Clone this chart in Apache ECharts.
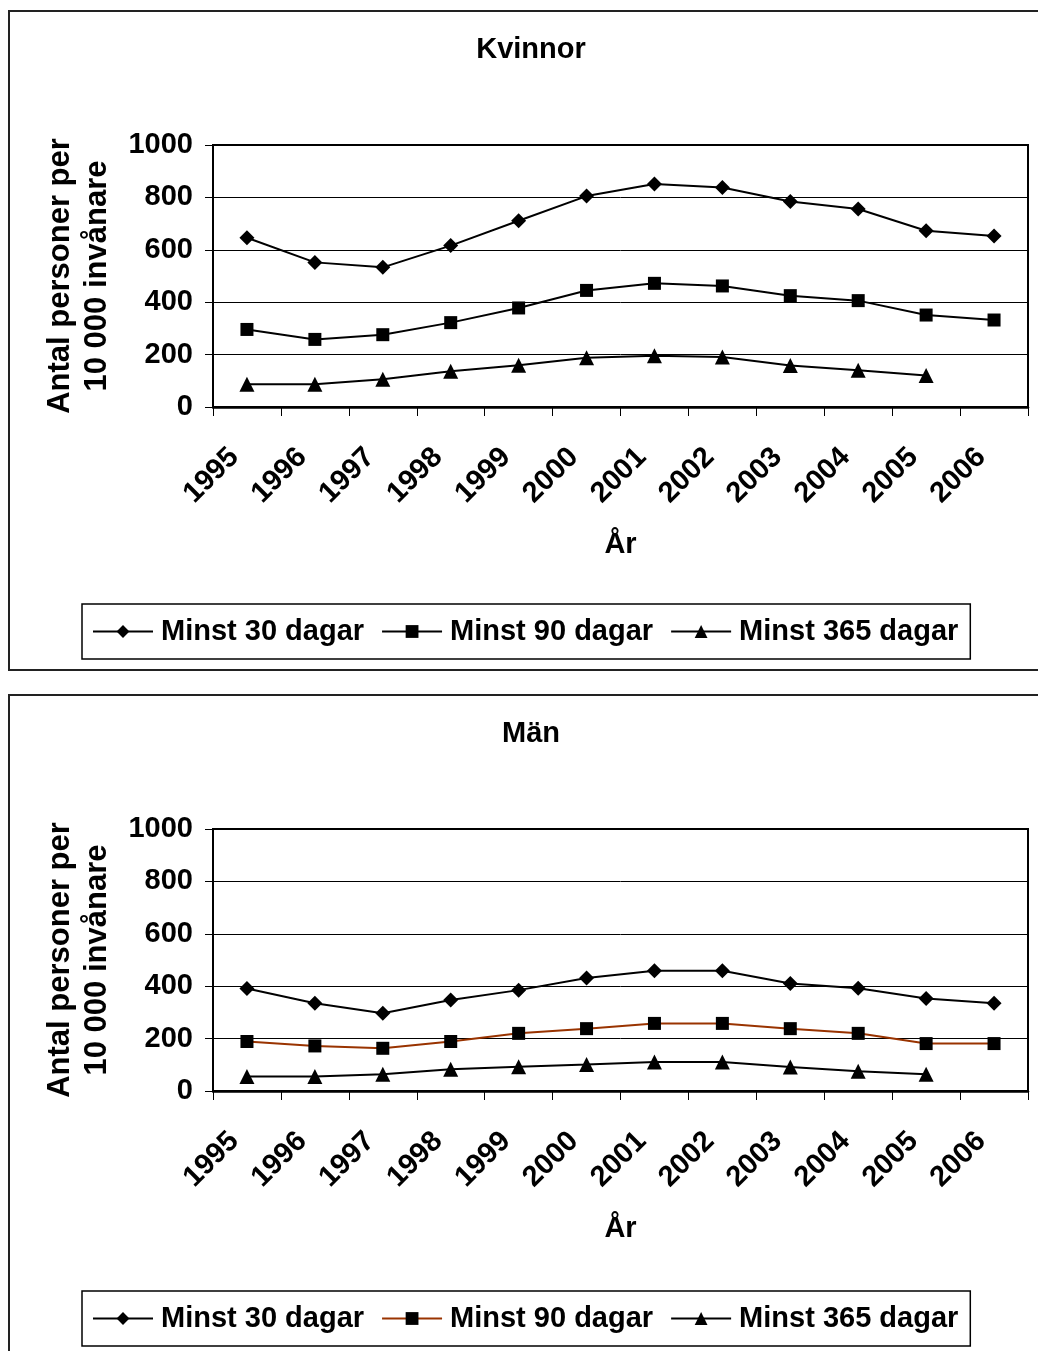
<!DOCTYPE html>
<html>
<head>
<meta charset="utf-8">
<script src="https://cdn.jsdelivr.net/npm/echarts@6/dist/echarts.min.js"></script>
<style>
  html, body { margin: 0; padding: 0; background: #fff; }
  body { width: 1038px; height: 1351px; position: relative; overflow: hidden; }
  .chart { position: absolute; left: 0; width: 1038px; }
  #kvinnor { top: 0; height: 684px; }
  #man { top: 684px; height: 667px; }
</style>
</head>
<body>
<div id="kvinnor" class="chart"></div>
<div id="man" class="chart"></div>
<script>
// Categories
const years = ['1995', '1996', '1997', '1998', '1999', '2000', '2001', '2002', '2003', '2004', '2005', '2006'];
const seriesNames = ['Minst 30 dagar', 'Minst 90 dagar', 'Minst 365 dagar'];
const yTicks = [0, 200, 400, 600, 800, 1000];

// Kvinnor, antal personer per 10 000 invånare
const kvinnor30 = [646, 552, 533, 616, 711, 805, 851, 838, 784, 756, 673, 653];
const kvinnor90 = [296, 258, 276, 322, 378, 445, 472, 462, 425, 406, 351, 332];
const kvinnor365 = [87, 87, 106, 136, 159, 188, 196, 191, 158, 140, 120, null];

// Män, antal personer per 10 000 invånare
const man30 = [391, 335, 297, 347, 385, 431, 459, 459, 410, 392, 353, 335];
const man90 = [189, 172, 163, 189, 220, 238, 258, 258, 238, 220, 181, 181];
const man365 = [55, 55, 64, 83, 93, 101, 111, 111, 92, 75, 64, null];

const FONT = "'Liberation Sans', Arial, sans-serif";
const symbols = ['diamond', 'rect', 'triangle'];
const symbolSizes = [15, 13, 15];

function buildOption(title, values, lineColors, legendTop, boxHeight) {
  return {
    animation: false,
    textStyle: { fontFamily: FONT },
    graphic: [{
      type: 'rect',
      shape: { x: 9, y: 11, width: 1100, height: boxHeight },
      style: { fill: 'none', stroke: '#222', lineWidth: 2 },
      silent: true,
      z: -1
    }],
    title: {
      text: title,
      left: 531,
      top: 35,
      textAlign: 'center',
      padding: 0,
      textStyle: { fontFamily: FONT, fontSize: 29, fontWeight: 'bold', color: '#000' }
    },
    legend: {
      data: seriesNames,
      left: 82,
      top: legendTop,
      orient: 'horizontal',
      itemWidth: 60,
      itemHeight: 16,
      itemGap: 17,
      padding: [13, 12, 13, 10],
      borderColor: '#000',
      borderWidth: 1.5,
      selectedMode: false,
      textStyle: { fontFamily: FONT, fontSize: 29, fontWeight: 'bold', color: '#000', padding: [0, 0, 0, 3] }
    },
    grid: {
      left: 213,
      top: 145,
      width: 815,
      height: 262,
      show: true,
      borderColor: '#000',
      borderWidth: 2,
      backgroundColor: 'transparent'
    },
    xAxis: {
      type: 'category',
      data: years,
      boundaryGap: true,
      axisLine: { show: true, lineStyle: { color: '#000', width: 2.5 } },
      axisTick: { show: true, length: 9, lineStyle: { color: '#000', width: 1 } },
      axisLabel: {
        rotate: 45,
        margin: 33,
        padding: [0, 18, 0, 0],
        fontFamily: FONT,
        fontSize: 29,
        fontWeight: 'bold',
        color: '#000'
      },
      name: 'År',
      nameLocation: 'middle',
      nameGap: 123,
      nameTextStyle: { fontFamily: FONT, fontSize: 29, fontWeight: 'bold', color: '#000' }
    },
    yAxis: {
      type: 'value',
      min: yTicks[0],
      max: yTicks[yTicks.length - 1],
      interval: 200,
      axisLine: { show: true, lineStyle: { color: '#000', width: 2 } },
      axisTick: { show: true, length: 8, lineStyle: { color: '#000', width: 1 } },
      axisLabel: {
        margin: 20,
        formatter: (v) => String(v),
        fontFamily: FONT,
        fontSize: 29,
        fontWeight: 'bold',
        color: '#000'
      },
      splitLine: { show: true, lineStyle: { color: '#000', width: 1 } },
      name: 'Antal personer per\n10 000 invånare',
      nameLocation: 'middle',
      nameRotate: 90,
      nameGap: 97,
      nameTextStyle: { fontFamily: FONT, fontSize: 31, fontWeight: 'bold', color: '#000', lineHeight: 37 }
    },
    series: seriesNames.map((name, i) => ({
      name: name,
      type: 'line',
      data: values[i],
      symbol: symbols[i],
      symbolSize: symbolSizes[i],
      showSymbol: true,
      connectNulls: false,
      lineStyle: { color: lineColors[i], width: 2 },
      itemStyle: { color: '#000' },
      emphasis: { disabled: true }
    }))
  };
}

const chartK = echarts.init(document.getElementById('kvinnor'), null, { renderer: 'canvas' });
chartK.setOption(buildOption('Kvinnor', [kvinnor30, kvinnor90, kvinnor365], ['#000', '#000', '#000'], 604, 659));

const chartM = echarts.init(document.getElementById('man'), null, { renderer: 'canvas' });
chartM.setOption(buildOption('Män', [man30, man90, man365], ['#000', '#993300', '#000'], 607, 700));
</script>
</body>
</html>
